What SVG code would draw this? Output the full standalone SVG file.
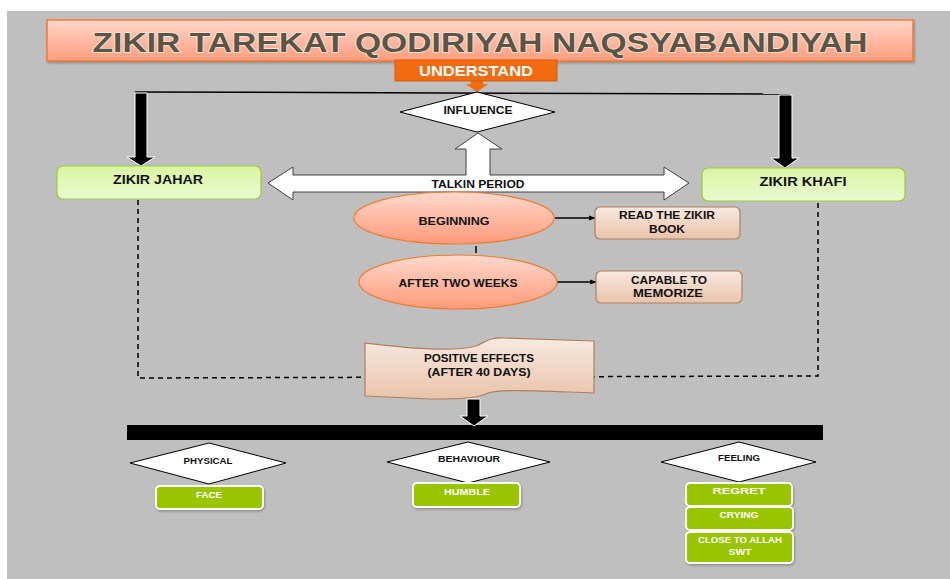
<svg xmlns="http://www.w3.org/2000/svg" width="950" height="579" viewBox="0 0 950 579">
<defs>
<linearGradient id="gTitle" x1="0" y1="0" x2="0" y2="1"><stop offset="0" stop-color="#FFD6CA"/><stop offset="1" stop-color="#FF9C7C"/></linearGradient>
<linearGradient id="gGreen" x1="0" y1="0" x2="0" y2="1"><stop offset="0" stop-color="#D9F5A2"/><stop offset="1" stop-color="#EAFAD0"/></linearGradient>
<linearGradient id="gEll" x1="0" y1="0" x2="0" y2="1"><stop offset="0" stop-color="#FFD9CD"/><stop offset="1" stop-color="#FF9A7A"/></linearGradient>
<linearGradient id="gTan" x1="0" y1="0" x2="0" y2="1"><stop offset="0" stop-color="#F8E9E0"/><stop offset="1" stop-color="#E9C3AA"/></linearGradient>
<filter id="sh" x="-10%" y="-20%" width="130%" height="160%"><feDropShadow dx="1" dy="1.5" stdDeviation="1" flood-color="#555" flood-opacity="0.5"/></filter>
<marker id="ah" viewBox="0 0 10 10" refX="9" refY="5" markerWidth="5" markerHeight="5" orient="auto"><path d="M0,1 L10,5 L0,9 Z" fill="#000"/></marker>
</defs>
<style>
text{font-family:"Liberation Sans",Arial,sans-serif;font-weight:bold;text-anchor:middle}
.dk{fill:#111}
.wt{fill:#fff}
.dia{fill:#fff;stroke:#000;stroke-width:1}
.gbox{fill:#98C500;stroke:#fff;stroke-width:1.8;filter:url(#sh)}
.tan{fill:url(#gTan);stroke:#B0805E;stroke-width:1.2}
.ell{fill:url(#gEll);stroke:#F27A2E;stroke-width:1.2}
.zk{fill:url(#gGreen);stroke:#9CCB3A;stroke-width:1.2}
.blk{fill:#000;stroke:#fff;stroke-width:1}
</style>
<rect x="0" y="0" width="950" height="579" fill="#fff"/>
<rect x="7" y="11" width="943" height="568" fill="#BFBFBF"/>

<g id="title">
<rect x="47" y="20" width="866" height="41" fill="url(#gTitle)" stroke="#F47A30" stroke-width="1.5" filter="url(#sh)"/>
<text x="480" y="52" font-size="27" textLength="775" lengthAdjust="spacingAndGlyphs" fill="#5C5444" stroke="#F3E6DA" stroke-width="1.6" paint-order="stroke">ZIKIR TAREKAT QODIRIYAH NAQSYABANDIYAH</text>
</g>

<g id="connectors">
<path d="M135,92 L790,94" stroke="#000" stroke-width="1.5" fill="none"/>
<path d="M138,200 L138,378 L818,376 L818,202" stroke="#000" stroke-width="1.5" stroke-dasharray="5,4" fill="none"/>
<path d="M476,246 L476,253" stroke="#000" stroke-width="1.5"/>
<path class="blk" d="M135,93 L147,93 L147,157 L155,157 L141,166 L127,157 L135,157 Z"/>
<path class="blk" d="M779,95 L792,95 L792,158 L799,158 L785,168 L771,158 L779,158 Z"/>
<path d="M471,81 L483,81 L483,84 L488,84 L477,92 L466,84 L471,84 Z" fill="#F26B0F"/>
<path d="M555,218 L595,218" stroke="#000" stroke-width="1.3" marker-end="url(#ah)"/>
<path d="M557,282 L596,282" stroke="#000" stroke-width="1.3" marker-end="url(#ah)"/>
</g>

<g id="talkin">
<path d="M268,183 L293,167 L293,175 L466,175 L466,149 L455,149 L478,133 L502,149 L490,149 L490,175 L664,175 L664,167 L689,183 L664,200 L664,192 L293,192 L293,200 Z" fill="#fff" stroke="#404040" stroke-width="1"/>
<text x="478" y="188" font-size="11" textLength="93" lengthAdjust="spacingAndGlyphs" class="dk">TALKIN PERIOD</text>
</g>

<g id="understand">
<rect x="395" y="60" width="162" height="21" fill="#F26B0F" stroke="#D95A08" stroke-width="1"/>
<text x="476" y="76" font-size="14" textLength="114" lengthAdjust="spacingAndGlyphs" class="wt">UNDERSTAND</text>
</g>

<g id="influence">
<path class="dia" d="M477,92 L555,112 L477,132 L400,112 Z"/>
<text x="478" y="114" font-size="10.5" textLength="69" lengthAdjust="spacingAndGlyphs" class="dk">INFLUENCE</text>
</g>

<g id="zikir-jahar">
<rect class="zk" x="57" y="166" width="204" height="33" rx="6"/>
<text x="158" y="184" font-size="12" textLength="90" lengthAdjust="spacingAndGlyphs" class="dk">ZIKIR JAHAR</text>
</g>

<g id="zikir-khafi">
<rect class="zk" x="702" y="168" width="203" height="33" rx="6"/>
<text x="803" y="186" font-size="12" textLength="87" lengthAdjust="spacingAndGlyphs" class="dk">ZIKIR KHAFI</text>
</g>

<g id="beginning">
<ellipse class="ell" cx="454" cy="218" rx="100" ry="26"/>
<text x="454" y="225" font-size="11" textLength="71" lengthAdjust="spacingAndGlyphs" class="dk">BEGINNING</text>
</g>

<g id="after-two-weeks">
<ellipse class="ell" cx="458" cy="282" rx="99" ry="27"/>
<text x="458" y="287" font-size="11" textLength="119" lengthAdjust="spacingAndGlyphs" class="dk">AFTER TWO WEEKS</text>
</g>

<g id="read-book">
<rect class="tan" x="595" y="207" width="145" height="32" rx="5"/>
<text x="667" y="219" font-size="10.5" textLength="96" lengthAdjust="spacingAndGlyphs" class="dk">READ THE ZIKIR</text>
<text x="667" y="233" font-size="10.5" textLength="36" lengthAdjust="spacingAndGlyphs" class="dk">BOOK</text>
</g>

<g id="memorize">
<rect class="tan" x="596" y="271" width="146" height="32" rx="5"/>
<text x="669" y="284" font-size="10.5" textLength="76" lengthAdjust="spacingAndGlyphs" class="dk">CAPABLE TO</text>
<text x="668" y="297" font-size="10.5" textLength="70" lengthAdjust="spacingAndGlyphs" class="dk">MEMORIZE</text>
</g>

<g id="positive-effects">
<path class="tan" d="M365,343 C400,347 450,353 476,346 C484,343 488,337 505,338 L594,341 L594,393 C560,392 505,388 488,393 C480,397 470,399 430,399 L365,396 Z"/>
<text x="479" y="362" font-size="10" textLength="110" lengthAdjust="spacingAndGlyphs" class="dk">POSITIVE EFFECTS</text>
<text x="479" y="376" font-size="10" textLength="103" lengthAdjust="spacingAndGlyphs" class="dk">(AFTER 40 DAYS)</text>
</g>

<g id="bar">
<rect x="127" y="425" width="696" height="15" fill="#000"/>
<path class="blk" d="M467,399 L480,399 L480,416 L488,416 L474,426 L460,416 L467,416 Z"/>
</g>

<g id="physical">
<path class="dia" d="M209,443 L286,463 L209,484 L130,463 Z"/>
<text x="208" y="464" font-size="8.5" textLength="49" lengthAdjust="spacingAndGlyphs" class="dk">PHYSICAL</text>
</g>
<g id="behaviour">
<path class="dia" d="M468,442 L550,462 L468,483 L387,462 Z"/>
<text x="469" y="462" font-size="8.5" textLength="62" lengthAdjust="spacingAndGlyphs" class="dk">BEHAVIOUR</text>
</g>
<g id="feeling">
<path class="dia" d="M739,442 L816,462 L739,482 L661,462 Z"/>
<text x="739" y="461" font-size="8.5" textLength="42" lengthAdjust="spacingAndGlyphs" class="dk">FEELING</text>
</g>

<g id="face">
<rect class="gbox" x="156" y="486" width="107" height="23" rx="4"/>
<text x="209" y="498" font-size="9" textLength="26" lengthAdjust="spacingAndGlyphs" class="wt">FACE</text>
</g>
<g id="humble">
<rect class="gbox" x="413" y="483" width="107" height="24" rx="4"/>
<text x="467" y="495" font-size="9" textLength="46" lengthAdjust="spacingAndGlyphs" class="wt">HUMBLE</text>
</g>
<g id="regret">
<rect class="gbox" x="686" y="483" width="106" height="23" rx="4"/>
<text x="739" y="494" font-size="9" textLength="53" lengthAdjust="spacingAndGlyphs" class="wt">REGRET</text>
</g>
<g id="crying">
<rect class="gbox" x="686" y="507" width="107" height="23" rx="4"/>
<text x="739" y="518" font-size="9" textLength="39" lengthAdjust="spacingAndGlyphs" class="wt">CRYING</text>
</g>
<g id="close-to-allah">
<rect class="gbox" x="686" y="532" width="107" height="31" rx="4"/>
<text x="740" y="543" font-size="9" textLength="84" lengthAdjust="spacingAndGlyphs" class="wt">CLOSE TO ALLAH</text>
<text x="740" y="555" font-size="9" textLength="23" lengthAdjust="spacingAndGlyphs" class="wt">SWT</text>
</g>
</svg>
